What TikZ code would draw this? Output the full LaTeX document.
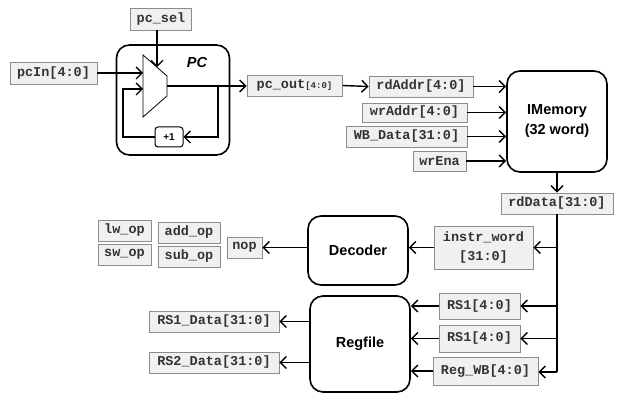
\documentclass[tikz,border=0pt]{standalone}
\usepackage{fontspec}
\setmainfont{Liberation Sans}
\newfontfamily\sigfont{Liberation Mono}
\usetikzlibrary{arrows.meta}

\tikzset{
  sig/.style={draw=black!45, fill=black!6, line width=0.8pt, inner sep=0pt,
    text=black!80, font=\sigfont\bfseries\fontsize{13.5}{16}\selectfont, align=center},
  blk/.style={draw=black, line width=1.6pt, rounded corners=13pt, fill=white, inner sep=0pt,
    font=\bfseries\fontsize{14.5}{20}\selectfont, align=center},
  arr/.style={line width=1.4pt, -{Straight Barb[length=6pt,width=12pt,line width=1.4pt]}},
  wire/.style={line width=1.4pt},
  sz/.style 2 args={minimum width=#1pt, minimum height=#2pt},
}

\begin{document}
\begin{tikzpicture}[x=1pt,y=-1pt]
\useasboundingbox (0,0) rectangle (624,403);

% PC block
\node[blk, sz={113}{110}] (pcblk) at (173,100) {};
\node[font=\bfseries\itshape\fontsize{14.5}{17}\selectfont] (pclbl) at (197,63) {PC};
\coordinate (mtl) at (143,55);
\coordinate (mbl) at (143,117);
\coordinate (mtr) at (167,76);
\coordinate (mbr) at (167,96);
\draw[line width=0.8pt, fill=white] (mtl) -- (mtr) -- (mbr) -- (mbl) -- cycle;
\coordinate (min1) at (143,73);
\coordinate (min2) at (143,89);
\coordinate (mout) at (167,86);
\coordinate (msel) at (157,67.25);
\node[draw, line width=1pt, rounded corners=3pt, sz={28}{20}, inner sep=0pt,
  font=\bfseries\fontsize{10}{12}\selectfont] (plus1) at (169,137) {+1};

\node[sig, sz={61}{22}] (pcsel) at (161,19) {pc\_sel};
\node[sig, sz={87}{22}] (pcin) at (53.5,73) {pcIn[4:0]};
\node[sig, sz={95}{21}] (pcout) at (294.5,85.5) {pc\_out{\fontsize{9}{11}\selectfont[4:0]}};

\draw[arr] (pcsel.south -| msel) -- (msel);
\draw[arr] (pcin.east) -- (min1);
\draw[arr] (mout) -- (mout -| pcout.west);
\coordinate (fb1) at (218,86);
\coordinate (fb2) at (123,89);
\draw[arr] (fb1) |- (plus1.east);
\draw[arr] (plus1.west) -| (fb2) -- (min2);

% IMemory
\node[blk, sz={100}{101}] (imem) at (557,121.5) {IMemory\\(32 word)};
\node[sig, sz={104}{21}] (rdaddr) at (421,86.5) {rdAddr[4:0]};
\node[sig, sz={105}{19}] (wraddr) at (414.5,112.5) {wrAddr[4:0]};
\node[sig, sz={121}{21}] (wbdata) at (406.5,136.5) {WB\_Data[31:0]};
\node[sig, sz={53}{20}] (wrena) at (439.5,161) {wrEna};
\node[sig, sz={112}{21}] (rddata) at (557,203.5) {rdData[31:0]};

\draw[arr] (pcout.east) -- (rdaddr.west);
\draw[arr] (rdaddr.east) -- (rdaddr.east -| imem.west);
\draw[arr] (wraddr.east) -- (wraddr.east -| imem.west);
\draw[arr] (wbdata.east) -- (wbdata.east -| imem.west);
\draw[arr] (wrena.east) -- (wrena.east -| imem.west);
\draw[arr] (imem.south) -- (rddata.north);

% Decoder / Regfile
\node[blk, sz={100}{69}] (dec) at (358,250.5) {Decoder};
\node[blk, sz={100}{96}] (reg) at (360,344) {Regfile};
\node[sig, sz={99}{43}, font=\sigfont\bfseries\fontsize{13.5}{19}\selectfont] (instr) at (483.5,247.5) {instr\_word\\{[31:0]}};
\node[sig, sz={81}{26}] (rs1a) at (479.5,306) {RS1[4:0]};
\node[sig, sz={81}{27}] (rs1b) at (479.5,338.5) {RS1[4:0]};
\node[sig, sz={105}{28}] (regwb) at (485.5,371) {Reg\_WB[4:0]};

\coordinate (bus) at (557,372);
\draw[wire] (rddata.south) -- (bus);
\draw[arr] (instr.east -| rddata.south) -- (instr.east);
\draw[arr] (rs1a.east -| rddata.south) -- (rs1a.east);
\draw[arr] (rs1b.east -| rddata.south) -- (rs1b.east);
\draw[arr] (bus) -- (bus -| regwb.east);

\draw[arr] (instr.west) -- (instr.west -| dec.east);
\draw[arr] (rs1a.west) -- (rs1a.west -| reg.east);
\draw[arr] (rs1b.west) -- (rs1b.west -| reg.east);
\draw[arr] (regwb.west) -- (regwb.west -| reg.east);

% outputs
\node[sig, sz={35}{21}] (nop) at (244.5,247.5) {nop};
\node[sig, sz={53}{21}] (lw) at (124.5,230.5) {lw\_op};
\node[sig, sz={53}{21}] (sw) at (124.5,254.5) {sw\_op};
\node[sig, sz={62}{21}] (add) at (189,232.5) {add\_op};
\node[sig, sz={62}{21}] (sub) at (189,256.5) {sub\_op};
\node[sig, sz={130}{21}] (rs1d) at (214,321.5) {RS1\_Data[31:0]};
\node[sig, sz={130}{21}] (rs2d) at (214,362.5) {RS2\_Data[31:0]};

\draw[arr] (dec.west |- nop.east) -- (nop.east);
\draw[arr] (rs1d.east -| reg.west) -- (rs1d.east);
\draw[arr] (rs2d.east -| reg.west) -- (rs2d.east);
\end{tikzpicture}
\end{document}
